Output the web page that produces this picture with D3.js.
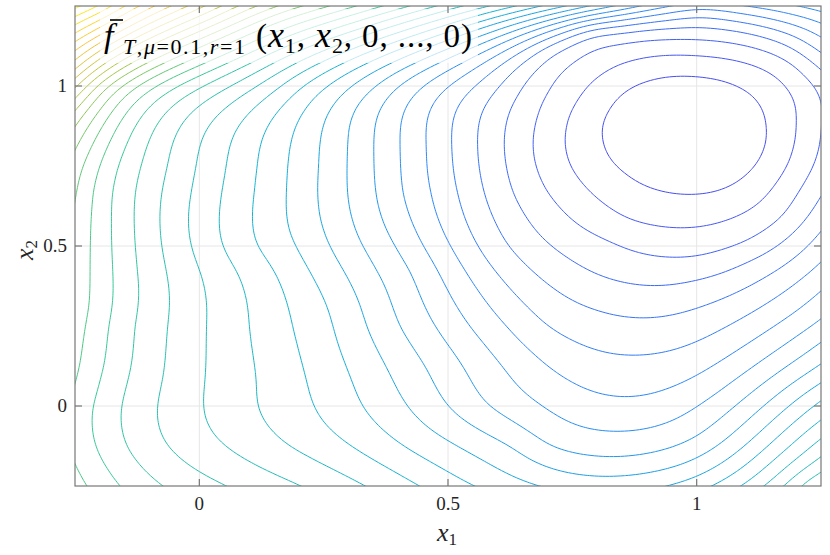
<!DOCTYPE html>
<html><head><meta charset="utf-8">
<script src="https://cdn.jsdelivr.net/npm/d3@7"></script>
<style>body{margin:0;background:#fff}</style>
</head><body>
<svg id="chart" width="830" height="555" xmlns="http://www.w3.org/2000/svg"></svg>
<script>
// ---- data: points [x1, x2] read on each contour line of the reference (level index 1 = innermost)
const level01 = [[0.813,0.834],[0.826,0.925],[0.86,0.988],[0.912,1.019],[1.0,1.028],[1.081,0.997],[1.128,0.934],[1.138,0.872],[1.128,0.778],[1.094,0.716],[1.047,0.675],[0.981,0.663],[0.927,0.675],[0.86,0.728],[0.821,0.791]];
const level02 = [[0.733,0.822],[0.741,0.903],[0.771,0.978],[0.826,1.05],[0.892,1.087],[1.0,1.094],[1.094,1.075],[1.168,1.019],[1.202,0.925],[1.202,0.853],[1.182,0.747],[1.134,0.644],[1.061,0.581],[0.96,0.556],[0.86,0.581],[0.786,0.666],[0.745,0.747]];
const level03 = [[0.671,0.822],[0.679,0.894],[0.705,0.988],[0.759,1.075],[0.826,1.122],[0.912,1.144],[1.0,1.147],[1.094,1.128],[1.194,1.072],[1.244,0.988],[1.248,0.872],[1.228,0.728],[1.174,0.591],[1.094,0.509],[1.0,0.466],[0.933,0.466],[0.826,0.519],[0.725,0.622],[0.685,0.716]];
const level04 = [[0.612,0.822],[0.624,0.925],[0.658,1.019],[0.711,1.103],[0.791,1.166],[0.892,1.178],[1.0,1.181],[1.1,1.168],[1.18,1.13],[1.25,1.05],[1.25,0.66],[1.1,0.45],[1.0,0.394],[0.92,0.375],[0.8,0.41],[0.7,0.51],[0.63,0.666]];
const level05 = [[0.56,0.82],[0.573,0.666],[0.62,0.5],[0.8,0.3],[0.905,0.275],[1.0,0.306],[1.25,0.55],[1.25,1.1],[1.0,1.219],[0.605,1.0]];
const level06 = [[0.507,0.82],[0.519,0.666],[0.56,0.5],[0.698,0.25],[0.886,0.16],[1.0,0.2],[1.25,0.45],[1.25,1.15],[1.0,1.243],[0.555,1.0]];
const level07 = [[0.457,0.82],[0.467,0.666],[0.505,0.5],[0.618,0.25],[0.7,0.125],[0.866,0.028],[1.0,0.094],[1.25,0.36],[1.25,1.2],[1.09,1.25],[0.95,1.25],[0.5,1.0]];
const level08 = [[0.404,0.82],[0.408,0.666],[0.45,0.5],[0.543,0.25],[0.61,0.125],[0.69,0.0],[0.842,-0.08],[1.0,-0.003],[1.25,0.27],[1.2,1.25],[0.89,1.25],[0.45,1.0]];
const level09 = [[0.35,0.82],[0.356,0.666],[0.395,0.5],[0.425,0.425],[0.475,0.25],[0.53,0.125],[0.58,0.0],[0.7,-0.125],[0.84,-0.16],[1.0,-0.097],[1.25,0.2],[0.84,1.25],[0.4,1.0]];
const level10 = [[0.3,0.82],[0.298,0.666],[0.328,0.5],[0.355,0.425],[0.402,0.25],[0.455,0.125],[0.5,0.0],[0.63,-0.125],[0.832,-0.22],[1.0,-0.163],[1.25,0.13],[0.79,1.25],[0.355,1.0]];
const level11 = [[0.241,0.75],[0.238,0.666],[0.262,0.5],[0.29,0.425],[0.336,0.25],[0.389,0.081],[0.419,0.0],[0.52,-0.125],[0.684,-0.25],[0.94,-0.25],[1.0,-0.222],[1.25,0.072],[0.744,1.25],[0.305,1.0]];
const level12 = [[0.177,0.75],[0.175,0.666],[0.195,0.5],[0.22,0.425],[0.259,0.31],[0.27,0.25],[0.307,0.081],[0.328,0.0],[0.41,-0.125],[0.551,-0.25],[1.03,-0.25],[1.25,0.019],[0.69,1.25],[0.258,1.0]];
const level13 = [[0.117,0.75],[0.111,0.666],[0.115,0.5],[0.151,0.425],[0.178,0.31],[0.187,0.25],[0.216,0.081],[0.231,0.0],[0.305,-0.125],[0.443,-0.25],[1.09,-0.25],[1.25,-0.044],[0.638,1.25],[0.207,1.0]];
const level14 = [[0.054,0.75],[0.044,0.666],[0.046,0.5],[0.075,0.425],[0.098,0.31],[0.1,0.25],[0.116,0.081],[0.117,0.0],[0.18,-0.125],[0.336,-0.25],[1.137,-0.25],[1.25,-0.1],[0.583,1.25],[0.165,1.0]];
const level15 = [[-0.006,0.75],[-0.016,0.666],[-0.016,0.5],[0.001,0.425],[0.015,0.31],[0.014,0.25],[0.011,0.081],[0.008,0.0],[0.052,-0.125],[0.207,-0.25],[1.177,-0.25],[1.25,-0.16],[0.529,1.25],[0.117,1.0]];
const level16 = [[-0.064,0.75],[-0.076,0.666],[-0.076,0.5],[-0.067,0.425],[-0.06,0.31],[-0.064,0.25],[-0.074,0.081],[-0.085,0.0],[-0.064,-0.125],[0.056,-0.25],[1.211,-0.25],[1.25,-0.21],[0.477,1.25],[0.062,1.0]];
const level17 = [[-0.117,0.75],[-0.129,0.666],[-0.129,0.5],[-0.126,0.425],[-0.124,0.31],[-0.131,0.25],[-0.144,0.081],[-0.157,0.0],[-0.147,-0.125],[-0.074,-0.25],[1.241,-0.25],[0.423,1.25],[0.008,1.0]];
const level18 = [[-0.165,0.75],[-0.175,0.666],[-0.177,0.5],[-0.174,0.425],[-0.176,0.31],[-0.183,0.25],[-0.201,0.081],[-0.215,0.0],[-0.209,-0.125],[-0.161,-0.25],[0.368,1.25],[-0.044,1.0]];
const level19 = [[-0.2,0.75],[-0.217,0.666],[-0.219,0.5],[-0.22,0.425],[-0.221,0.31],[-0.229,0.25],[-0.24,0.125],[-0.25,0.06],[-0.25,-0.18],[-0.225,-0.25],[0.316,1.25],[-0.087,1.0]];
const level20 = [[-0.25,0.64],[-0.245,0.666],[-0.235,0.75],[-0.125,1.0],[0.262,1.25]];
const level21 = [[-0.25,0.8],[-0.155,1.0],[0.207,1.25]];
const level22 = [[-0.25,0.875],[-0.185,1.0],[0.155,1.25]];
const level23 = [[-0.25,0.925],[-0.207,1.0],[0.115,1.25]];
const level24 = [[-0.25,0.96],[-0.23,1.0],[0.076,1.25]];
const level25 = [[-0.25,0.99],[0.044,1.25]];
const level26 = [[-0.25,1.02],[0.014,1.25]];
const level27 = [[-0.25,1.05],[-0.024,1.25]];
const level28 = [[-0.25,1.08],[-0.056,1.25]];
const level29 = [[-0.25,1.11],[-0.091,1.25]];
const level30 = [[-0.25,1.14],[-0.121,1.25]];
const level31 = [[-0.25,1.165],[-0.151,1.25]];
const level32 = [[-0.25,1.19],[-0.177,1.25]];
const level33 = [[-0.25,1.22],[-0.2,1.25]];
const level34 = [[-0.25,1.245],[-0.231,1.25]];
const minimumPoint = [0.97, 0.845];
const minimumLevel = -1.2;
const contourLevels = d3.range(1, 35);
const colorLimits = [-4, 34.6];
const xTickValues = [0, 0.5, 1];
const xTickLabels = ["0", "0.5", "1"];
const yTickValues = [0, 0.5, 1];
const yTickLabels = ["0", "0.5", "1"];
const parulaAnchors = ["#3e26a8", "#4852f4", "#2d87f7", "#12b1d6", "#37c897", "#abc739", "#fec338", "#f9fb15"];

const levelPoints = [level01, level02, level03, level04, level05, level06, level07, level08, level09, level10,
  level11, level12, level13, level14, level15, level16, level17, level18, level19, level20, level21, level22,
  level23, level24, level25, level26, level27, level28, level29, level30, level31, level32, level33, level34];

// ---- layout
const W = 830, H = 555;
const L = 75, R = 821, T = 6, B = 486;
const svg = d3.select("#chart");
const x = d3.scaleLinear().domain([-0.25, 1.25]).range([L, R]);
const y = d3.scaleLinear().domain([-0.25, 1.25]).range([B, T]);
const color = d3.scaleSequential(d3.piecewise(d3.interpolateRgb, parulaAnchors)).domain(colorLimits);

// ---- smoothing thin-plate spline through the read contour points, then d3.contours
const pts = [];
levelPoints.forEach((arr, i) => arr.forEach(p => pts.push([p[0], p[1], contourLevels[i]])));
pts.push([minimumPoint[0], minimumPoint[1], minimumLevel]);
const N = pts.length, M = N + 3, lambda = 2.5e-3;
const phi = d2 => d2 > 0 ? 0.5 * d2 * Math.log(d2) : 0;
const A = Array.from({length: M}, () => new Float64Array(M));
const rhs = new Float64Array(M);
for (let i = 0; i < N; i++) {
  for (let j = 0; j < N; j++) {
    const dx = pts[i][0] - pts[j][0], dy = pts[i][1] - pts[j][1];
    A[i][j] = i === j ? lambda : phi(dx * dx + dy * dy);
  }
  A[i][N] = A[N][i] = 1;
  A[i][N + 1] = A[N + 1][i] = pts[i][0];
  A[i][N + 2] = A[N + 2][i] = pts[i][1];
  rhs[i] = pts[i][2];
}
for (let c = 0; c < M; c++) {
  let piv = c;
  for (let r = c + 1; r < M; r++) if (Math.abs(A[r][c]) > Math.abs(A[piv][c])) piv = r;
  [A[c], A[piv]] = [A[piv], A[c]]; [rhs[c], rhs[piv]] = [rhs[piv], rhs[c]];
  const d = A[c][c];
  for (let r = c + 1; r < M; r++) {
    const f = A[r][c] / d;
    if (f === 0) continue;
    const Ar = A[r], Ac = A[c];
    for (let k = c; k < M; k++) Ar[k] -= f * Ac[k];
    rhs[r] -= f * rhs[c];
  }
}
const wts = new Float64Array(M);
for (let r = M - 1; r >= 0; r--) {
  let s = rhs[r];
  for (let k = r + 1; k < M; k++) s -= A[r][k] * wts[k];
  wts[r] = s / A[r][r];
}
function surf(a, b) {
  let s = wts[N] + wts[N + 1] * a + wts[N + 2] * b;
  for (let i = 0; i < N; i++) {
    const dx = a - pts[i][0], dy = b - pts[i][1];
    s += wts[i] * phi(dx * dx + dy * dy);
  }
  return s;
}
const step = 0.0075, g0 = -0.3;
const nx = Math.round(1.6 / step) + 1, ny = nx;
const values = new Float64Array(nx * ny);
for (let j = 0; j < ny; j++) for (let i = 0; i < nx; i++) values[j * nx + i] = surf(g0 + i * step, g0 + j * step);
d3.blur2({data: values, width: nx, height: ny}, 2);
const contours = d3.contours().size([nx, ny]).thresholds(contourLevels)(values);
const proj = d3.geoTransform({
  point(px, py) { this.stream.point(x(g0 + (px - 0.5) * step), y(g0 + (py - 0.5) * step)); }
});
const path = d3.geoPath(proj);

svg.append("rect").attr("width", W).attr("height", H).attr("fill", "#fff");
svg.append("defs").append("clipPath").attr("id", "clip")
  .append("rect").attr("x", L).attr("y", T).attr("width", R - L).attr("height", B - T);

// grid
const gg = svg.append("g").attr("stroke", "#e6e6e6").attr("stroke-width", 1);
xTickValues.forEach(v => gg.append("line").attr("x1", x(v)).attr("x2", x(v)).attr("y1", T).attr("y2", B));
yTickValues.forEach(v => gg.append("line").attr("y1", y(v)).attr("y2", y(v)).attr("x1", L).attr("x2", R));

// contour lines
svg.append("g").attr("clip-path", "url(#clip)")
  .selectAll("path").data(contours).join("path")
  .attr("d", path).attr("fill", "none")
  .attr("stroke", d => color(d.value)).attr("stroke-width", 1);

// title box (semi transparent)
svg.append("rect").attr("x", 100).attr("y", 9).attr("width", 378).attr("height", 54)
  .attr("fill", "#fff").attr("fill-opacity", 0.72);

// axes frame and ticks
const ax = svg.append("g").attr("stroke", "#777").attr("stroke-width", 1.2).attr("fill", "none");
ax.append("rect").attr("x", L).attr("y", T).attr("width", R - L).attr("height", B - T);
xTickValues.forEach(v => {
  ax.append("line").attr("x1", x(v)).attr("x2", x(v)).attr("y1", B).attr("y2", B - 7);
  ax.append("line").attr("x1", x(v)).attr("x2", x(v)).attr("y1", T).attr("y2", T + 7);
});
yTickValues.forEach(v => {
  ax.append("line").attr("y1", y(v)).attr("y2", y(v)).attr("x1", L).attr("x2", L + 7);
  ax.append("line").attr("y1", y(v)).attr("y2", y(v)).attr("x1", R).attr("x2", R - 7);
});

const serif = "'Liberation Serif', 'DejaVu Serif', serif";
svg.append("g").selectAll("text").data(xTickValues).join("text")
  .attr("x", d => x(d)).attr("y", 510).attr("text-anchor", "middle")
  .attr("font-family", serif).attr("font-size", 19).attr("fill", "#262626")
  .text((d, i) => xTickLabels[i]);
svg.append("g").selectAll("text").data(yTickValues).join("text")
  .attr("x", 67).attr("y", d => y(d) + 6).attr("text-anchor", "end")
  .attr("font-family", serif).attr("font-size", 19).attr("fill", "#262626")
  .text((d, i) => yTickLabels[i]);

// axis labels
const xl = svg.append("text").attr("x", 437).attr("y", 541).attr("font-family", serif).attr("fill", "#262626");
xl.append("tspan").attr("font-style", "italic").attr("font-size", 26).text("x");
xl.append("tspan").attr("font-size", 17).attr("dy", 4).text("1");
const yl = svg.append("text").attr("transform", "translate(33,260) rotate(-90)").attr("font-family", serif).attr("fill", "#262626");
yl.append("tspan").attr("font-style", "italic").attr("font-size", 26).text("x");
yl.append("tspan").attr("font-size", 17).attr("dy", 4).text("2");

// title
const tt = svg.append("g").attr("font-family", serif).attr("fill", "#000");
tt.append("text").attr("x", 104).attr("y", 47).attr("font-size", 34).attr("font-style", "italic").text("f");
tt.append("line").attr("x1", 110).attr("x2", 123).attr("y1", 20).attr("y2", 20).attr("stroke", "#000").attr("stroke-width", 1.6);
const sub = tt.append("text").attr("x", 123).attr("y", 54).attr("font-size", 22)
  .attr("textLength", 122).attr("lengthAdjust", "spacing");
sub.append("tspan").attr("font-style", "italic").text("T");
sub.append("tspan").text(",");
sub.append("tspan").attr("font-style", "italic").text("μ");
sub.append("tspan").text("=0.1,");
sub.append("tspan").attr("font-style", "italic").text("r");
sub.append("tspan").text("=1");
const main = tt.append("text").attr("x", 256).attr("y", 47).attr("font-size", 33)
  .attr("textLength", 216).attr("lengthAdjust", "spacing");
main.append("tspan").text("(");
main.append("tspan").attr("font-style", "italic").attr("font-size", 36).text("x");
main.append("tspan").attr("font-size", 22).attr("dy", 6).text("1");
main.append("tspan").attr("dy", -6).text(", ");
main.append("tspan").attr("font-style", "italic").attr("font-size", 36).text("x");
main.append("tspan").attr("font-size", 22).attr("dy", 6).text("2");
main.append("tspan").attr("dy", -6).text(", 0, ..., 0)");
</script>
</body></html>
